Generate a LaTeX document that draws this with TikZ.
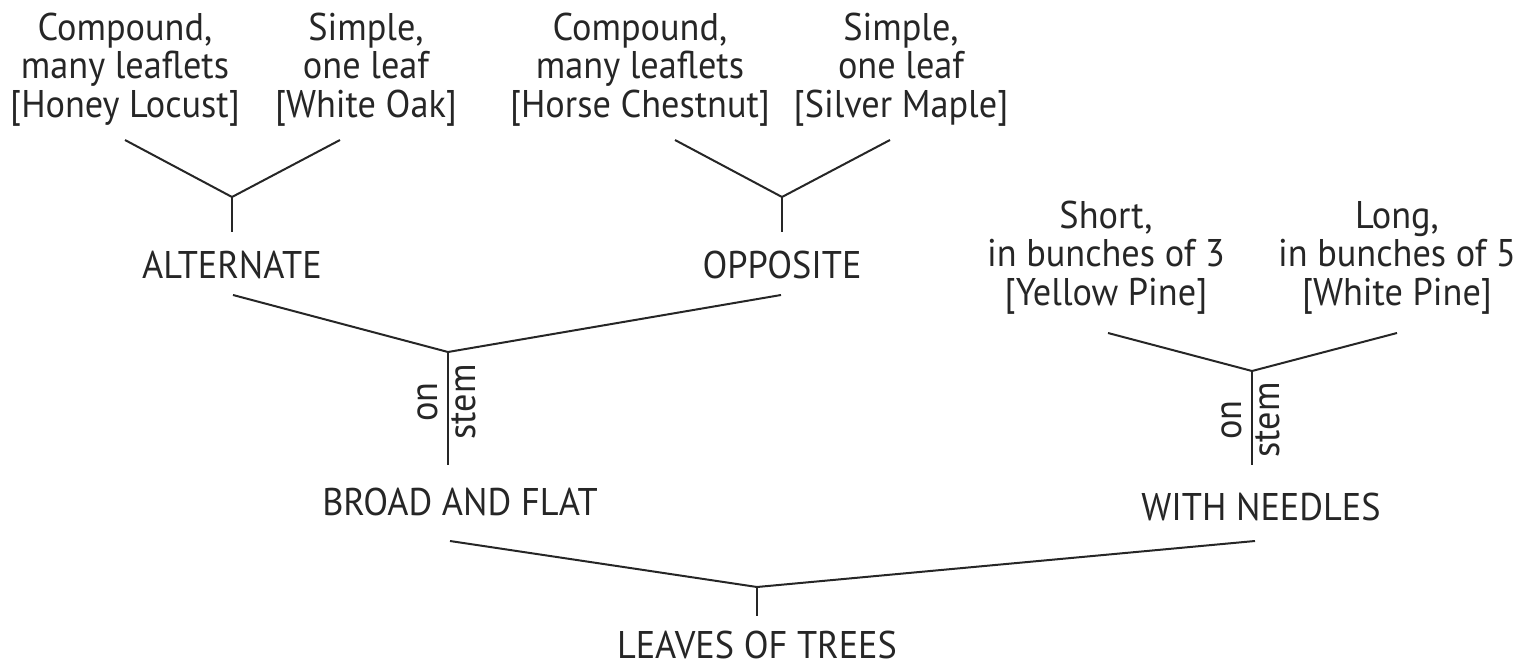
\documentclass[tikz,border=0pt]{standalone}
\usepackage{fontspec}
\setmainfont{PT Sans}[FakeStretch=0.94]
\begin{document}
\begin{tikzpicture}[x=0.5pt,y=-0.5pt,
  every node/.style={inner sep=0pt, outer sep=0pt, text=black!85},
  lbl/.style={font=\fontsize{19.3}{19.25}\selectfont, align=center},
  branch/.style={draw=black!85, line width=1pt},
  vlabel/.style={font=\fontsize{19.3}{19.25}\selectfont, rotate=90}]
\useasboundingbox (0,0) rectangle (1530,668);

% leaf-level descriptions
\node[lbl, anchor=north] (c1) at (125,13) {Compound,\\many leaflets\\{[Honey Locust]}};
\node[lbl, anchor=north] (s1) at (366,13) {Simple,\\one leaf\\{[White Oak]}};
\node[lbl, anchor=north] (c2) at (640,13) {Compound,\\many leaflets\\{[Horse Chestnut]}};
\node[lbl, anchor=north] (s2) at (901,13) {Simple,\\one leaf\\{[Silver Maple]}};
\node[lbl, anchor=north] (yp) at (1106,201) {Short,\\in bunches of 3\\{[Yellow Pine]}};
\node[lbl, anchor=north] (wp) at (1397,201) {Long,\\in bunches of 5\\{[White Pine]}};

% intermediate categories
\node[lbl] (alt) at (232,265) {ALTERNATE};
\node[lbl] (opp) at (782,265) {OPPOSITE};
\node[lbl] (broad) at (460,502) {BROAD AND FLAT};
\node[lbl] (needles) at (1261,507) {WITH NEEDLES};
\node[lbl] (leaves) at (757,645) {LEAVES OF TREES};

% connector ends and forks
\coordinate (c1e) at (125,140);
\coordinate (s1e) at (340,140);
\coordinate (j1) at (232,197);
\coordinate (alte) at (232,232);
\coordinate (c2e) at (675,140);
\coordinate (s2e) at (890,140);
\coordinate (j2) at (782,197);
\coordinate (oppe) at (782,232);
\coordinate (altb) at (233,295);
\coordinate (oppb) at (781,295);
\coordinate (j3) at (448,352);
\coordinate (broadt) at (448,465);
\coordinate (ype) at (1108,333);
\coordinate (wpe) at (1397,333);
\coordinate (j4) at (1252,371);
\coordinate (needlest) at (1252,465);
\coordinate (broadb) at (450,541);
\coordinate (needlesb) at (1255,541);
\coordinate (j5) at (757,587);
\coordinate (leavest) at (757,616);

\draw[branch] (c1e) -- (j1) -- (s1e);
\draw[branch] (j1) -- (alte);
\draw[branch] (c2e) -- (j2) -- (s2e);
\draw[branch] (j2) -- (oppe);
\draw[branch] (altb) -- (j3) -- (oppb);
\draw[branch] (j3) -- (broadt);
\draw[branch] (ype) -- (j4) -- (wpe);
\draw[branch] (j4) -- (needlest);
\draw[branch] (broadb) -- (j5) -- (needlesb);
\draw[branch] (j5) -- (leavest);

% "on stem" beside the stems
\node[vlabel, anchor=base] (on1) at (437,402) {on};
\node[vlabel, anchor=base] (stem1) at (475,402) {stem};
\node[vlabel, anchor=base] (on2) at (1241,420) {on};
\node[vlabel, anchor=base] (stem2) at (1279,420) {stem};
\end{tikzpicture}
\end{document}
